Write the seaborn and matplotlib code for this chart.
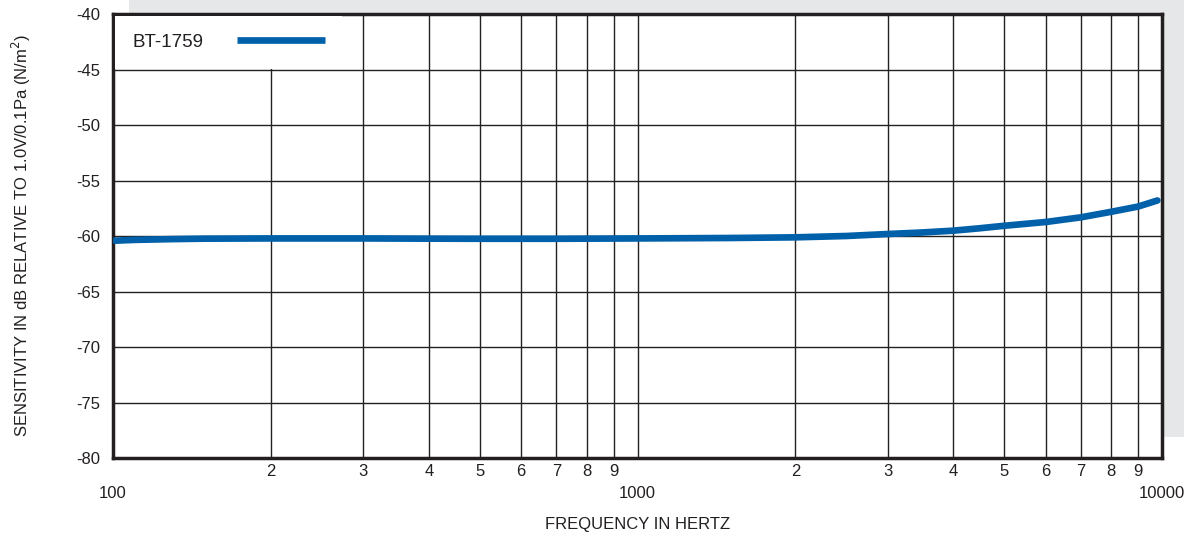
import numpy as np
import pandas as pd
import matplotlib
matplotlib.use('Agg')
import matplotlib.pyplot as plt
import matplotlib.ticker as mticker
from matplotlib.patches import Rectangle
import seaborn as sns

# Datos
freq = [101, 110, 130, 150, 200, 300, 400, 500, 700, 1000, 1500, 2000, 2500, 3000,
        3500, 4000, 4500, 5000, 6000, 7000, 8000, 9000, 9800]
sens = [-60.42, -60.35, -60.28, -60.24, -60.22, -60.22, -60.24, -60.25, -60.25, -60.22,
        -60.18, -60.12, -60.0, -59.82, -59.68, -59.52, -59.3, -59.08, -58.74, -58.32,
        -57.82, -57.35, -56.8]
serie = 'BT-1759'

yticks = [-40, -45, -50, -55, -60, -65, -70, -75, -80]
xmajor = [100, 1000, 10000]
xminor = [200, 300, 400, 500, 600, 700, 800, 900,
          2000, 3000, 4000, 5000, 6000, 7000, 8000, 9000]

df = pd.DataFrame({'freq': freq, 'sens': sens, 'serie': serie})

sns.set_theme(style='white')
plt.rcParams['font.family'] = ['Liberation Sans', 'DejaVu Sans']

fs = 12
fig = plt.figure(figsize=(11.99, 5.4), dpi=100)
# fondo gris detras del grafico
fig.patches.append(Rectangle((129 / 1199, 1 - 437 / 540), (1184 - 129) / 1199, 437 / 540,
                             transform=fig.transFigure, facecolor='#e6e7e8',
                             edgecolor='none', zorder=-5))
ax = fig.add_axes([113 / 1199, 1 - 458 / 540, (1162 - 113) / 1199, (458 - 14) / 540])
ax.set_zorder(2)
ax.set_facecolor('white')

sns.lineplot(data=df, x='freq', y='sens', hue='serie', palette=['#0061aa'],
             linewidth=4.8, ax=ax, solid_capstyle='round', zorder=3)

ax.set_xscale('log')
ax.set_xlim(100, 10000)
ax.set_ylim(-80, -40)
ax.set_yticks(yticks)
ax.set_yticklabels([str(v) for v in yticks])

ax.xaxis.set_major_locator(mticker.FixedLocator(xmajor))
ax.xaxis.set_minor_locator(mticker.FixedLocator(xminor))
ax.xaxis.set_major_formatter(mticker.FixedFormatter(['100', '1000', '10000']))
ax.xaxis.set_minor_formatter(mticker.FixedFormatter([str(int(str(v)[0])) for v in xminor]))

ax.tick_params(axis='x', which='major', length=0, pad=20, labelsize=fs, colors='#231f20')
ax.tick_params(axis='x', which='minor', length=0, pad=4, labelsize=fs, colors='#231f20')
ax.tick_params(axis='y', length=0, pad=9, labelsize=fs, colors='#231f20')

ax.grid(True, which='both', axis='both', color='#222222', linewidth=1.0)
ax.set_axisbelow(True)

for s in ax.spines.values():
    s.set_visible(True)
    s.set_color('#231f20')
    s.set_linewidth(2.5)

ax.set_xlabel('FREQUENCY IN HERTZ', fontsize=fs, color='#231f20', labelpad=12)
ax.set_ylabel('SENSITIVITY IN dB RELATIVE TO 1.0V/0.1Pa (N/m$^2$)', fontsize=fs,
              color='#231f20', labelpad=31)

leg = ax.legend(loc='upper left', markerfirst=False, frameon=True, fontsize=13.5,
                handlelength=4.7, handletextpad=1.75, borderpad=0.95, borderaxespad=0.1,
                fancybox=False)
leg.get_frame().set_facecolor('white')
leg.get_frame().set_edgecolor('none')
leg.get_frame().set_alpha(1)
for line in leg.get_lines():
    line.set_linewidth(4.8)
    line.set_solid_capstyle('butt')
for t in leg.get_texts():
    t.set_color('#231f20')

fig.savefig('out.png', dpi=100)
